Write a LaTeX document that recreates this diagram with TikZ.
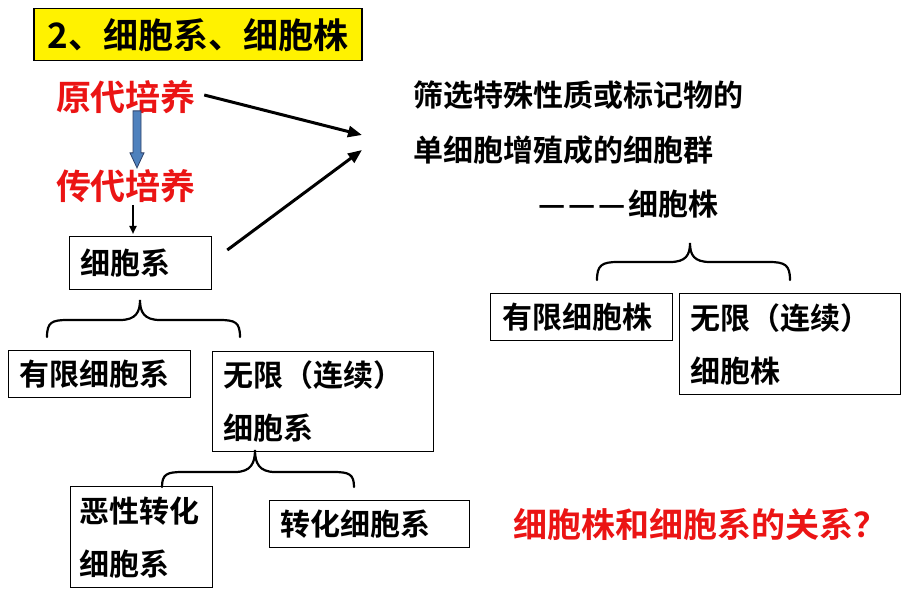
\documentclass[tikz,border=0pt]{standalone}
\usepackage{fontspec}
\setmainfont{Noto Sans CJK SC}[BoldFont={Noto Sans CJK SC Bold}]
\usetikzlibrary{arrows.meta,calc}
\definecolor{myred}{RGB}{235,20,20}
\definecolor{arrowblue}{RGB}{79,129,189}
\definecolor{arrowedge}{RGB}{45,65,105}
\begin{document}
\begin{tikzpicture}[x=1pt,y=-1pt,
  box/.style={draw, line width=1.3pt, anchor=north west, inner xsep=11pt, inner ysep=0pt,
    align=left, font=\bfseries\fontsize{30}{53}\selectfont},
  redtxt/.style={inner sep=0pt, text=myred, font=\bfseries\fontsize{35}{40}\selectfont},
  plaintxt/.style={inner sep=0pt, anchor=west, font=\bfseries\fontsize{30}{36}\selectfont},
  bigarrow/.style={line width=3pt, -{Triangle[length=14pt,width=11pt]}},
  bracepath/.style={line width=2.2pt, line cap=round}
]
\useasboundingbox (0,0) rectangle (911,596);

% title
\node[fill=yellow, draw, line width=1.5pt, minimum width=328pt, minimum height=52pt,
  anchor=north west, inner sep=0pt, font=\bfseries\fontsize{35}{40}\selectfont] (title) at (33,8) {2、细胞系、细胞株};

% left column
\node[redtxt] (prim) at (126,97) {原代培养};
\node[redtxt] (pass) at (126,186) {传代培养};
\node[box, text width=120pt, minimum height=53pt] (sys) at (69,236) {细胞系};

% blue block arrow
\draw[fill=arrowblue, draw=arrowedge, line width=0.8pt]
  ($(prim.south)+(11,-3)$) ++(-4,0) coordinate (ba)
  -- ++(8,0) -- ++(0,42) -- ++(3,0) -- ++(-7,15) -- ++(-7,-15) -- ++(3,0) -- cycle;

% small black arrow
\draw[line width=2.2pt, -{Triangle[length=8pt,width=7pt]}]
  ($(pass.south)+(7,2)$) -- ($(sys.north west)+(64,-2)$);

% right text
\node[plaintxt] (sel1) at (413,95) {筛选特殊性质或标记物的};
\node[plaintxt] (sel2) at (413,150) {单细胞增殖成的细胞群};
\node[plaintxt] (sel3) at (538,204) {—\hspace{3pt}—\hspace{3pt}—\hspace{3pt}细胞株};

\coordinate (t1) at (362,135);
\coordinate (t2) at (362,150);
\draw[bigarrow] ($(prim.east)+(8,-2)$) -- (t1);
\draw[bigarrow] ($(sys.north east)+(15,14)$) -- (t2);

% left brace
\draw[bracepath] (47,337) .. controls (47,322) and (52,320) .. (68,320) -- (120,320)
  .. controls (136,320) and (140,312) .. (140,300)
  .. controls (140,312) and (144,320) .. (160,320) -- (219,320)
  .. controls (235,320) and (240,322) .. (240,337);

\node[box, text width=160pt, minimum height=47pt] (finsys) at (8,350) {有限细胞系};
\node[box, text width=199pt, minimum height=100pt] (infsys) at (212,351) {无限（连续）\\细胞系};

% lower brace
\draw[bracepath] (162,487) .. controls (162,474) and (167,472) .. (183,472) -- (235,472)
  .. controls (251,472) and (255,463) .. (255,450)
  .. controls (255,463) and (259,472) .. (275,472) -- (333,472)
  .. controls (349,472) and (354,474) .. (354,487);

\node[box, inner xsep=9pt, text width=124pt, minimum height=101pt] (malig) at (70,486) {恶性转化\\细胞系};
\node[box, text width=178pt, minimum height=47pt] (trans) at (269,500) {转化细胞系};

% right brace
\draw[bracepath] (597,280) .. controls (597,265) and (602,262) .. (618,262) -- (670,262)
  .. controls (686,262) and (690,255) .. (690,243)
  .. controls (690,255) and (694,262) .. (710,262) -- (769,262)
  .. controls (785,262) and (790,265) .. (790,280);

\node[box, inner xsep=12pt, text width=158pt, minimum height=47pt] (finline) at (490,293) {有限细胞株};
\node[box, text width=199pt, minimum height=101pt] (infline) at (679,293) {无限（连续）\\细胞株};

% question
\node[inner sep=0pt, anchor=west, text=myred, font=\bfseries\fontsize{34}{40}\selectfont] (q) at (513,525) {细胞株和细胞系的关系？};
\end{tikzpicture}
\end{document}
